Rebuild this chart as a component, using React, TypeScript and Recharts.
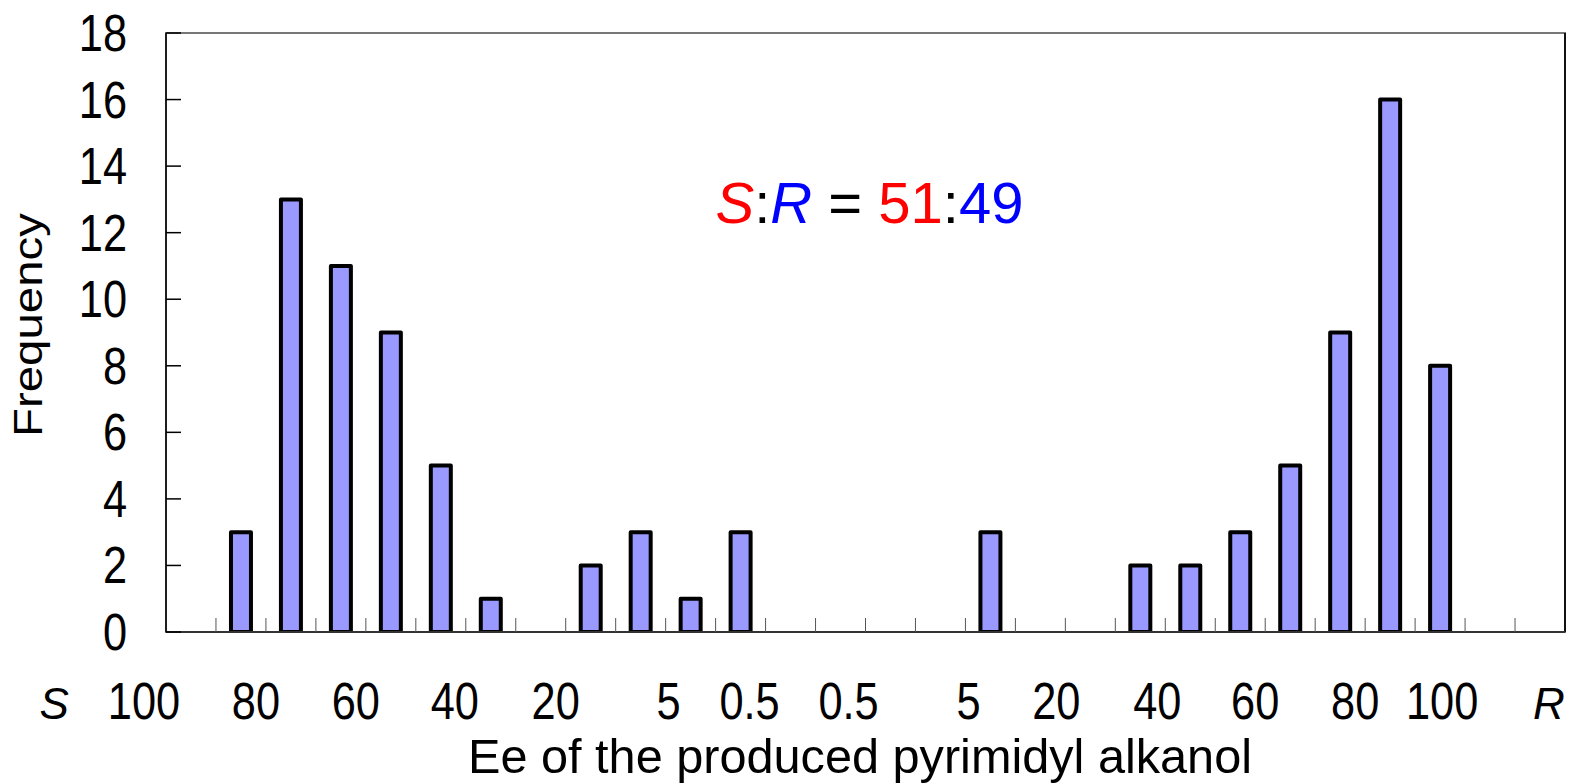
import React from "react"
import { BarChart, Bar, XAxis, YAxis, ReferenceArea, ReferenceLine, ReferenceDot, Label } from "recharts"

// 28 ee bins, S side on the left, R side on the right
const binCenters = [
  0.5, 1.5, 2.5, 3.5, 4.5, 5.5, 6.5, 7.5, 8.5, 9.5, 10.5, 11.5, 12.5, 13.5,
  14.5, 15.5, 16.5, 17.5, 18.5, 19.5, 20.5, 21.5, 22.5, 23.5, 24.5, 25.5, 26.5, 27.5,
]
const frequency = [0, 3, 13, 11, 9, 5, 1, 0, 2, 3, 1, 3, 0, 0, 0, 0, 3, 0, 0, 2, 2, 3, 5, 9, 16, 8, 0, 0]

// bin boundaries carry the small tick marks
const binEdges = [1, 2, 3, 4, 5, 6, 7, 8, 9, 10, 11, 12, 13, 14, 15, 16, 17, 18, 19, 20, 21, 22, 23, 24, 25, 26, 27]

// ee labels under the axis (placed by hand in the original figure)
const eeLabelPos = [-2.24, -0.44, 1.8, 3.8, 5.78, 7.8, 10.06, 11.68, 13.66, 16.06, 17.82, 19.84, 21.8, 23.8, 25.54, 27.68]
const eeLabelText = ["S", "100", "80", "60", "40", "20", "5", "0.5", "0.5", "5", "20", "40", "60", "80", "100", "R"]

const yTicks = [0, 2, 4, 6, 8, 10, 12, 14, 16, 18]

const data = binCenters.map((x, i) => ({ x, count: frequency[i] }))

const SANS = "'Liberation Sans', Arial, sans-serif"

const Empty = () => <g />

// one axis: bin edges get an inward tick mark, label positions get text
const EeTick = (props: any) => {
  const { x, y, payload } = props
  if (binEdges.includes(payload.value)) {
    return <line x1={x} x2={x} y1={y} y2={y - 14} stroke="#555" strokeWidth={1} />
  }
  const idx = eeLabelPos.indexOf(payload.value)
  const text = idx >= 0 ? eeLabelText[idx] : ""
  if (text === "S" || text === "R") {
    return (
      <text x={x} y={y + 87} textAnchor="middle" fill="#000" fontFamily={SANS} fontStyle="italic" fontSize={44}>
        {text}
      </text>
    )
  }
  return (
    <g transform={`translate(${x},${y + 87}) scale(0.85,1)`}>
      <text x={0} y={0} textAnchor="middle" fill="#000" fontFamily={SANS} fontSize={51}>
        {text}
      </text>
    </g>
  )
}

const FreqTick = (props: any) => {
  const { x, y, payload } = props
  return (
    <g transform={`translate(${x},${y + 18}) scale(0.85,1)`}>
      <text x={0} y={0} textAnchor="end" fill="#000" fontFamily={SANS} fontSize={51}>
        {payload.value}
      </text>
    </g>
  )
}

export default function App() {
  return (
    <div style={{ position: "absolute", left: 0, top: 0, background: "#fff" }}>
      <BarChart width={1572} height={784} data={data} margin={{ top: 33, right: 7, bottom: 151, left: 164 }}>
        <ReferenceArea
          xAxisId="bin"
          yAxisId="freq"
          x1={0}
          x2={28}
          y1={0}
          y2={18}
          fill="#fff"
          fillOpacity={0}
          stroke="#777"
          strokeWidth={2}
          ifOverflow="visible"
        />
        <ReferenceLine xAxisId="bin" yAxisId="freq" x={28} stroke="#111" strokeWidth={2} ifOverflow="visible" />
        <XAxis
          xAxisId="bin"
          dataKey="x"
          type="number"
          domain={[0, 28]}
          allowDataOverflow
          ticks={[...eeLabelPos, ...binEdges]}
          interval={0}
          height={1}
          tick={EeTick}
          tickSize={0}
          tickMargin={0}
          tickLine={false}
          axisLine={{ stroke: "#333", strokeWidth: 2 }}
        >
          <Label
            content={() => (
              <text
                x={860}
                y={773}
                textAnchor="middle"
                fill="#000"
                fontFamily={SANS}
                fontSize={48}
                textLength={784}
                lengthAdjust="spacingAndGlyphs"
              >
                Ee of the produced pyrimidyl alkanol
              </text>
            )}
          />
        </XAxis>
        <YAxis
          yAxisId="freq"
          type="number"
          domain={[0, 18]}
          allowDataOverflow
          ticks={yTicks}
          interval={0}
          width={1}
          tick={Empty}
          tickSize={-15}
          tickLine={{ stroke: "#000", strokeWidth: 1.5 }}
          axisLine={{ stroke: "#000", strokeWidth: 1.5 }}
        />
        <YAxis
          yAxisId="lbl"
          type="number"
          domain={[0, 18]}
          allowDataOverflow
          ticks={yTicks}
          interval={0}
          width={1}
          tick={FreqTick}
          tickSize={0}
          tickMargin={38}
          tickLine={false}
          axisLine={false}
        >
          <Label
            content={() => (
              <text
                x={42}
                y={325}
                transform="rotate(-90, 42, 325)"
                textAnchor="middle"
                fill="#000"
                fontFamily={SANS}
                fontSize={40}
                textLength={224}
                lengthAdjust="spacingAndGlyphs"
              >
                Frequency
              </text>
            )}
          />
        </YAxis>
        <Bar
          xAxisId="bin"
          yAxisId="freq"
          dataKey="count"
          barSize={20}
          fill="#9999FF"
          stroke="#000"
          strokeWidth={4}
          strokeLinejoin="round"
          isAnimationActive={false}
        />
        <ReferenceDot
          xAxisId="bin"
          yAxisId="freq"
          x={14.08}
          y={12.3}
          r={1}
          fill="none"
          stroke="none"
          label={(p: any) => {
            const vb = p.viewBox || { x: 870, y: 222, width: 0 }
            const cx = vb.x + (vb.width || 0) / 2
            const cy = vb.y + (vb.height || 0) / 2
            return (
              <text x={cx} y={cy} textAnchor="middle" fontFamily={SANS} fontSize={58}>
                <tspan fill="#FF0000" fontStyle="italic">S</tspan>
                <tspan fill="#000">:</tspan>
                <tspan fill="#0000FF" fontStyle="italic">R</tspan>
                <tspan fill="#000">{" = "}</tspan>
                <tspan fill="#FF0000">51</tspan>
                <tspan fill="#000">:</tspan>
                <tspan fill="#0000FF">49</tspan>
              </text>
            )
          }}
        />
      </BarChart>
    </div>
  )
}
